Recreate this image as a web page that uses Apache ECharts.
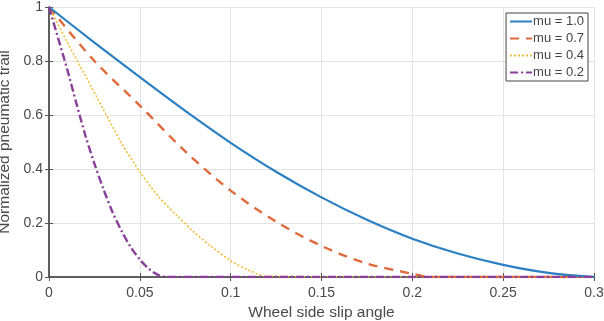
<!DOCTYPE html>
<html>
<head>
<meta charset="utf-8">
<script src="https://cdn.jsdelivr.net/npm/echarts@6/dist/echarts.min.js"></script>
<style>
  html, body { margin: 0; padding: 0; background: #fff; }
  #chart { width: 604px; height: 321px; }
</style>
</head>
<body>
<div id="chart"></div>
<script>
// values
var xTicks = [0, 0.05, 0.1, 0.15, 0.2, 0.25, 0.3];
var yTicks = [0, 0.2, 0.4, 0.6, 0.8, 1];

var mu10X = [0, 0.025, 0.05, 0.075, 0.1, 0.125, 0.15, 0.175, 0.2, 0.225, 0.25, 0.275, 0.3];
var mu10Y = [1, 0.868, 0.74, 0.615, 0.497, 0.39, 0.295, 0.212, 0.142, 0.087, 0.045, 0.015, 0];

var mu07X = [0, 0.025, 0.05, 0.075, 0.1, 0.125, 0.15, 0.175, 0.2, 0.21, 0.25, 0.3];
var mu07Y = [1, 0.8, 0.635, 0.465, 0.32, 0.205, 0.115, 0.05, 0.012, 0, 0, 0];

var mu04X = [0, 0.01, 0.02, 0.03, 0.04, 0.05, 0.06, 0.07, 0.08, 0.09, 0.1, 0.11, 0.12, 0.2, 0.3];
var mu04Y = [1, 0.87, 0.745, 0.62, 0.495, 0.39, 0.3, 0.23, 0.165, 0.11, 0.06, 0.025, 0.003, 0, 0];

var mu02X = [0, 0.005, 0.01, 0.015, 0.02, 0.025, 0.03, 0.035, 0.04, 0.045, 0.05, 0.055, 0.06, 0.065, 0.15, 0.3];
var mu02Y = [1, 0.885, 0.77, 0.645, 0.525, 0.42, 0.325, 0.24, 0.17, 0.11, 0.065, 0.03, 0.008, 0, 0, 0];

var seriesNames = ['mu = 1.0', 'mu = 0.7', 'mu = 0.4', 'mu = 0.2'];
var seriesColors = ['#2b7fc3', '#e06a3a', '#f0bd3a', '#8a3f9a'];

function pairs(xs, ys) {
  return xs.map(function (x, i) { return [x, ys[i]]; });
}

var chart = echarts.init(document.getElementById('chart'), null, { renderer: 'canvas' });

var axisColor = '#555';
var labelColor = '#4a4a4a';
var fontFam = 'Liberation Sans, Arial, sans-serif';

var option = {
  animation: false,
  backgroundColor: '#fff',
  grid: { left: 49, right: 10, top: 7, bottom: 44, outerBoundsMode: 'none', containLabel: false },
  legend: {
    right: 16,
    top: 13,
    orient: 'vertical',
    backgroundColor: '#fff',
    borderColor: '#444',
    borderWidth: 1,
    borderRadius: 0,
    padding: [2, 4, 2, 3],
    itemWidth: 22,
    itemHeight: 10,
    itemGap: 4,
    itemStyle: { opacity: 0 },
    textStyle: { color: '#444', fontSize: 13, fontFamily: fontFam, padding: [0, 0, 0, -4] },
    data: seriesNames
  },
  xAxis: [{
    type: 'value',
    min: 0, max: 0.3, interval: 0.05,
    name: 'Wheel side slip angle',
    nameLocation: 'middle',
    nameGap: 26,
    nameTextStyle: { color: labelColor, fontSize: 15.5, fontFamily: fontFam },
    axisLine: { lineStyle: { color: axisColor, width: 1.5 } },
    axisTick: { inside: true, length: 4, lineStyle: { color: axisColor } },
    axisLabel: { color: labelColor, fontSize: 14, fontFamily: fontFam, margin: 9,
      formatter: function (v) { return xTicks.indexOf(+v.toFixed(2)) >= 0 ? String(+v.toFixed(2)) : ''; } },
    splitLine: { show: true, lineStyle: { color: '#e3e3e3' } }
  }, {
    type: 'value', position: 'top',
    min: 0, max: 0.3, interval: 0.05,
    axisLine: { show: true, lineStyle: { color: axisColor, width: 1.5 } },
    axisTick: { show: true, inside: true, length: 4, lineStyle: { color: axisColor } },
    axisLabel: { show: false },
    splitLine: { show: false }
  }],
  yAxis: [{
    type: 'value',
    min: 0, max: 1, interval: 0.2,
    name: 'Normalized pneumatic trail',
    nameLocation: 'middle',
    nameGap: 30,
    nameTextStyle: { color: labelColor, fontSize: 15.5, fontFamily: fontFam },
    axisLine: { show: true, lineStyle: { color: axisColor, width: 1.5 } },
    axisTick: { show: true, inside: true, length: 4, lineStyle: { color: axisColor } },
    axisLabel: { color: labelColor, fontSize: 14, fontFamily: fontFam, margin: 6,
      formatter: function (v) { return yTicks.indexOf(+v.toFixed(1)) >= 0 ? String(+v.toFixed(1)) : ''; } },
    splitLine: { show: true, lineStyle: { color: '#e3e3e3' } }
  }, {
    type: 'value', position: 'right',
    min: 0, max: 1, interval: 0.2,
    axisLine: { show: true, lineStyle: { color: axisColor, width: 1.5 } },
    axisTick: { show: true, inside: true, length: 4, lineStyle: { color: axisColor } },
    axisLabel: { show: false },
    splitLine: { show: false }
  }],
  series: [{
    name: seriesNames[0], type: 'line', smooth: 0.3, symbol: 'none',
    color: seriesColors[0],
    lineStyle: { width: 2.2, color: seriesColors[0] },
    data: pairs(mu10X, mu10Y), z: 4
  }, {
    name: seriesNames[1], type: 'line', smooth: 0.3, symbol: 'none',
    color: seriesColors[1],
    lineStyle: { width: 2.4, color: seriesColors[1], type: [9, 7] },
    data: pairs(mu07X, mu07Y), z: 3
  }, {
    name: seriesNames[2], type: 'line', smooth: 0.3, symbol: 'none',
    color: seriesColors[2],
    lineStyle: { width: 1.6, color: seriesColors[2], type: [2, 2] },
    data: pairs(mu04X, mu04Y), z: 2
  }, {
    name: seriesNames[3], type: 'line', smooth: 0.3, symbol: 'none',
    color: seriesColors[3],
    lineStyle: { width: 2.4, color: seriesColors[3], type: [8, 3, 2, 3] },
    data: pairs(mu02X, mu02Y), z: 5
  }]
};

chart.setOption(option);
</script>
</body>
</html>
